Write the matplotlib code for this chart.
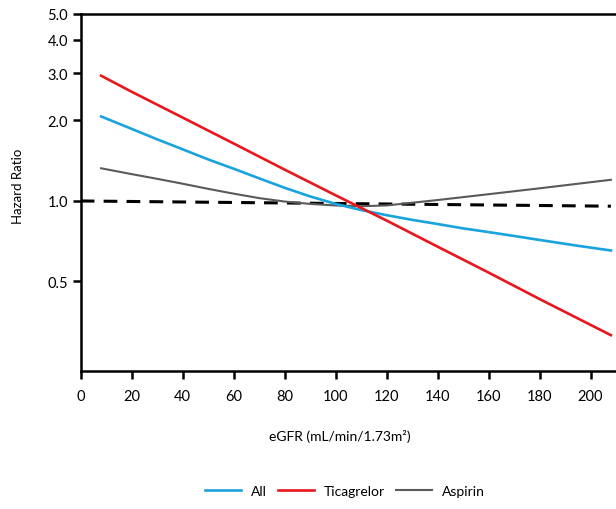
import matplotlib
matplotlib.use("Agg")
import matplotlib.pyplot as plt
from matplotlib.ticker import FixedLocator, NullLocator, FixedFormatter

plt.rcParams["font.family"] = ["Lato", "DejaVu Sans"]

# values (hazard ratio vs eGFR)
egfr_all = [8, 20, 30, 40, 50, 60, 70, 80, 90, 100, 110, 120, 130, 140, 150,
            160, 170, 180, 195, 208]
hr_all = [2.07, 1.86, 1.70, 1.56, 1.43, 1.32, 1.215, 1.12, 1.04, 0.975, 0.925,
          0.885, 0.85, 0.82, 0.79, 0.765, 0.74, 0.715, 0.68, 0.653]

egfr_tica = [8, 20, 40, 60, 80, 100, 120, 140, 160, 180, 208]
hr_tica = [2.94, 2.56, 2.05, 1.64, 1.31, 1.05, 0.845, 0.675, 0.54, 0.43, 0.315]

egfr_asa = [8, 20, 30, 40, 50, 60, 70, 80, 90, 100, 110, 120, 130, 140, 160,
            180, 208]
hr_asa = [1.325, 1.26, 1.21, 1.16, 1.11, 1.065, 1.025, 0.995, 0.975, 0.962,
          0.956, 0.962, 0.985, 1.008, 1.06, 1.115, 1.2]

egfr_ref = [0, 208]
hr_ref = [1.0, 0.956]

yticks = [0.5, 1.0, 2.0, 3.0, 4.0, 5.0]
xticks = list(range(0, 201, 20))

fig = plt.figure(figsize=(6.16, 5.10), dpi=100)
ax = fig.add_axes([80.7 / 616, 1 - 371.7 / 510, (616 - 80.7) / 616, (371.7 - 15) / 510])

ax.plot(egfr_ref, hr_ref, color="black", lw=2.2, dashes=(4.5, 3), zorder=1)
l1, = ax.plot(egfr_all, hr_all, color="#1aa3dc", lw=1.9, label="All", zorder=3)
l2, = ax.plot(egfr_tica, hr_tica, color="#e8161d", lw=1.9, label="Ticagrelor", zorder=4)
l3, = ax.plot(egfr_asa, hr_asa, color="#5a5a5a", lw=1.5, label="Aspirin", zorder=2)

ax.set_yscale("log")
ax.set_ylim(0.232, 5.0)
ax.set_xlim(0, 210)
ax.yaxis.set_major_locator(FixedLocator(yticks))
ax.yaxis.set_major_formatter(FixedFormatter([f"{v:.1f}" for v in yticks]))
ax.yaxis.set_minor_locator(NullLocator())
ax.set_xticks(xticks)

for s in ("left", "bottom", "top"):
    ax.spines[s].set_linewidth(1.8)
ax.spines["right"].set_visible(False)
ax.tick_params(axis="both", width=1.8, length=6, labelsize=10.5, colors="black")
ax.tick_params(axis="x", pad=7)
ax.tick_params(axis="y", pad=3)

fig.text(18 / 616, 1 - 186 / 510, "Hazard Ratio", rotation=90, ha="center",
         va="center", fontsize=9.5)
fig.text(340 / 616, 1 - 437 / 510, "eGFR (mL/min/1.73m²)", ha="center",
         va="center", fontsize=10)

fig.legend(handles=[l1, l2, l3], loc="center", bbox_to_anchor=(345 / 616, 1 - 492 / 510),
           ncol=3, frameon=False, fontsize=10, handlelength=2.6,
           handletextpad=0.7, columnspacing=0.8)

fig.savefig("out.png", dpi=100)
